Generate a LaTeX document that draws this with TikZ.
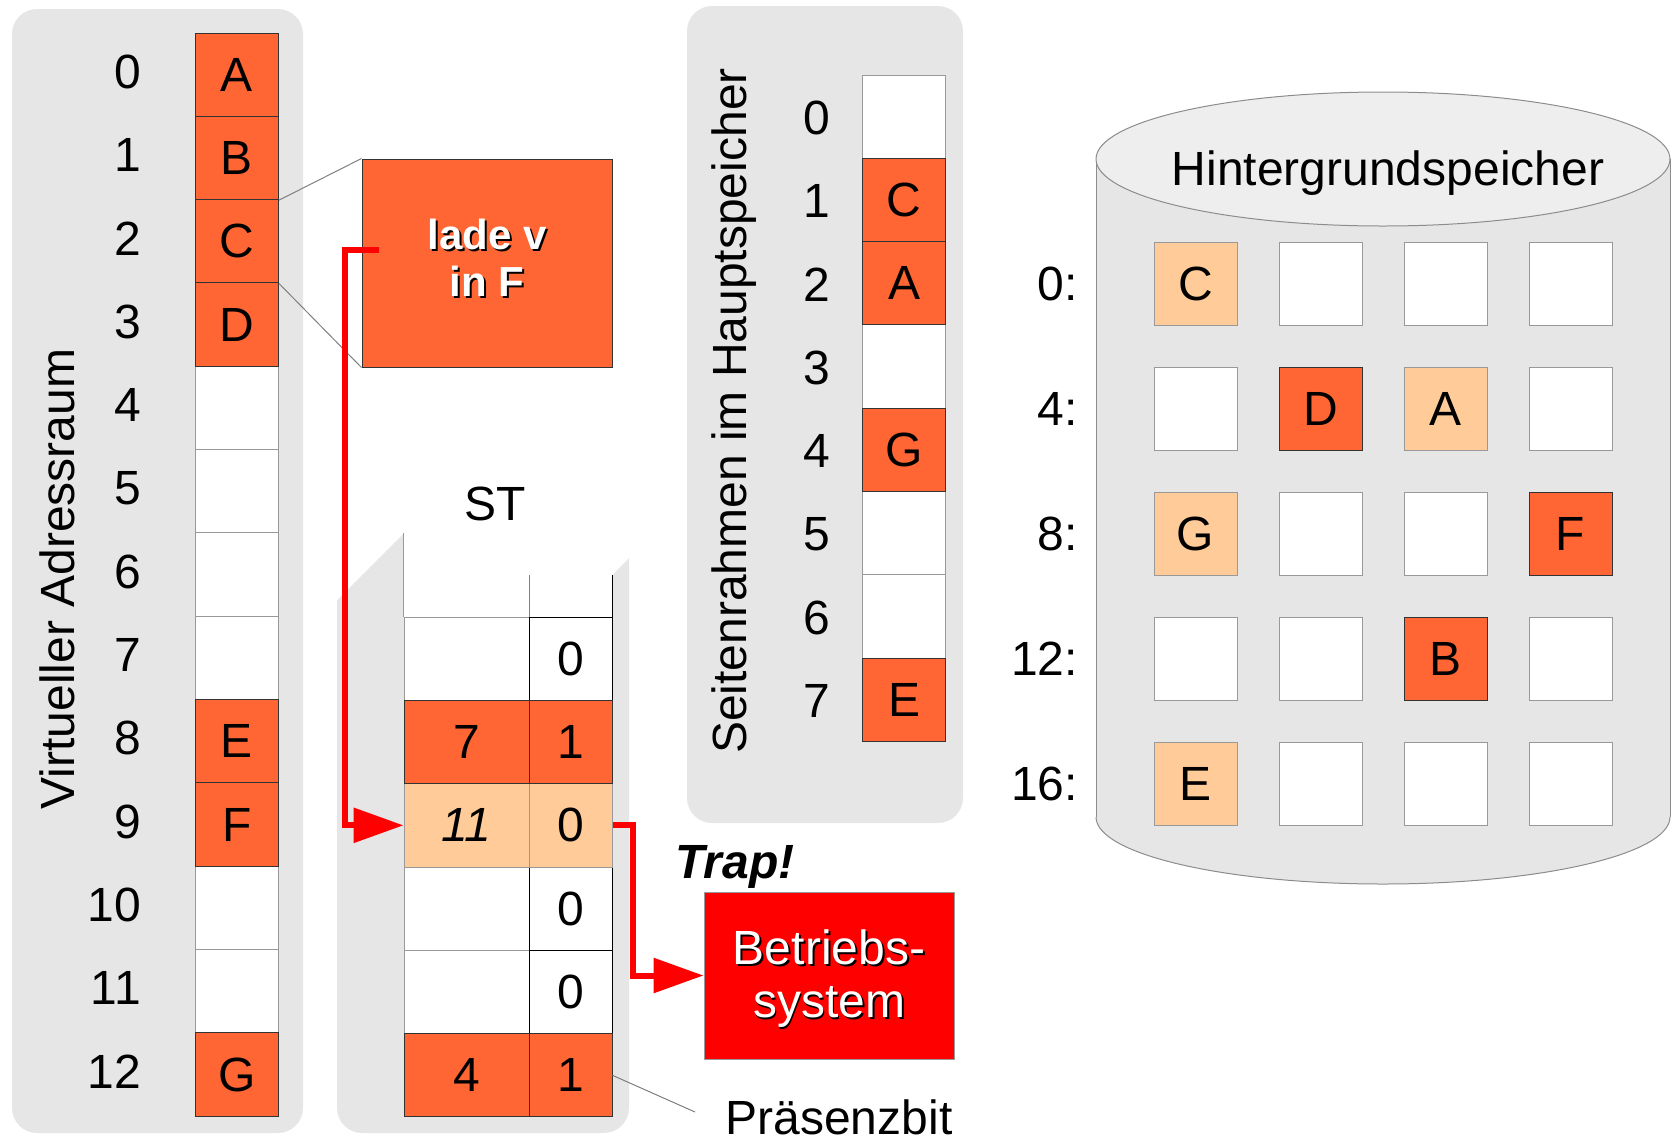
\documentclass[tikz,border=0pt]{standalone}
\usepackage{fontspec}
\setmainfont{Liberation Sans}
\usetikzlibrary{arrows.meta}
\definecolor{panelgray}{HTML}{E6E6E6}
\definecolor{orng}{HTML}{FF6633}
\definecolor{lorng}{HTML}{FFCC99}
\definecolor{topgray}{HTML}{EEEEEE}
\definecolor{linegray}{HTML}{999999}
\definecolor{darkline}{HTML}{333333}
\definecolor{cylline}{HTML}{8C8C8C}
\newcommand\myfs{\fontsize{48}{54}\selectfont}
\newcommand\myfsb{\fontsize{42}{47}\selectfont\bfseries}
\newcommand\myfsc{\fontsize{48}{53}\selectfont}
\begin{document}
\begin{tikzpicture}[x=1pt,y=-1pt,
  every node/.style={font=\myfs, inner sep=0pt},
  cellbase/.style={rectangle, minimum width=83pt, minimum height=83.33pt, line width=1pt},
  cellw/.style={cellbase, fill=white, draw=linegray},
  cellwb/.style={cellbase, fill=white, draw=black},
  cello/.style={cellbase, fill=orng, draw=darkline},
  celll/.style={cellbase, fill=lorng, draw=linegray},
  wide/.style={minimum width=125pt},
  panel/.style={fill=panelgray, rounded corners=25pt},
  leader/.style={draw=gray, line width=1pt},
  redarrow/.style={draw=red, line width=6pt, line join=miter, -{Triangle[length=50pt,width=34pt]}},
  shadowtxt/.style={text=black, align=center},
  whitetxt/.style={text=white, align=center}
]
\useasboundingbox (0,0) rectangle (1674,1144);

% ---------- panels ----------
\fill[panel] (12,9) rectangle (303,1133);
\fill[panel] (687,6) rectangle (963,823);
\fill[panel] (337,520) rectangle (629,1133);
\fill[white] (330,607) -- (404,533) -- (404,617) -- (612,617) -- (612,575) -- (635,552) -- (635,505) -- (330,505) -- cycle;

% ---------- virtual address space ----------
\node[rotate=90] (vlabel) at (57,579) {Virtueller Adressraum};
\foreach \i in {4,5,6,7,10,11}
  \node[cellw] (v\i) at (237,{33+83.33*(\i+0.5)}) {};
\foreach \i/\t in {0/A,1/B,2/C,3/D,8/E,9/F,12/G}
  \node[cello] (v\i) at (237,{33+83.33*(\i+0.5)}) {\t};
\foreach \i in {0,...,12}
  \node[anchor=east] (vn\i) at (141,{30+83.33*(\i+0.5)}) {\i};

% ---------- lade box ----------
\node[rectangle, minimum width=250pt, minimum height=208pt, fill=orng, draw=darkline, line width=1pt] (lade) at (487,263) {};
\node[shadowtxt, font=\myfsb] (ladeshadow) at (489,260) {lade v\\in F};
\node[whitetxt, font=\myfsb] (ladetext) at (487,258) {lade v\\in F};
\draw[leader] (v1.south east) -- (lade.north west);
\draw[leader] (v2.south east) -- (lade.south west);

% ---------- ST table ----------
\node[anchor=base] (st) at (495,520) {ST};
\node[cellw, wide] (sl0) at (466.5,{617+83.33*0.5}) {};
\node[cellwb] (sr0) at (570.5,{617+83.33*0.5}) {0};
\node[cellw, wide] (sl3) at (466.5,{617+83.33*3.5}) {};
\node[cellwb] (sr3) at (570.5,{617+83.33*3.5}) {0};
\node[cellw, wide] (sl4) at (466.5,{617+83.33*4.5}) {};
\node[cellwb] (sr4) at (570.5,{617+83.33*4.5}) {0};
\node[celll, wide] (sl2) at (466.5,{617+83.33*2.5}) {\textit{11}};
\node[celll] (sr2) at (570.5,{617+83.33*2.5}) {0};
\node[cello, wide] (sl1) at (466.5,{617+83.33*1.5}) {7};
\node[cello] (sr1) at (570.5,{617+83.33*1.5}) {1};
\node[cello, wide] (sl5) at (466.5,{617+83.33*5.5}) {4};
\node[cello] (sr5) at (570.5,{617+83.33*5.5}) {1};
\draw[linegray, line width=1pt] (sl0.north west) -- ++(0,-84);
\draw[gray, line width=1pt] (sl0.north east) -- ++(0,-42);
\draw[black, line width=1pt] (sr0.north east) -- ++(0,-42);

% ---------- Betriebssystem ----------
\node[rectangle, minimum width=250pt, minimum height=167pt, fill=red, draw=linegray, line width=1pt] (bs) at (829,975.5) {};
\node[shadowtxt, font=\myfsc] (bsshadow) at (831,980.5) {Betriebs-\\system};
\node[whitetxt, font=\myfsc] (bstext) at (829,978.5) {Betriebs-\\system};
\node[anchor=base, font=\myfs\bfseries\itshape] (trap) at (735,878) {Trap!};

% ---------- red arrows ----------
\coordinate (ladeout) at (379,250);
\draw[redarrow] (ladeout) -- ++(-34,0) |- (sl2.west);
\draw[redarrow] (sr2.east) -- ++(20,0) |- (bs.west);

% ---------- Praesenzbit ----------
\node[anchor=base] (pb) at (839,1134) {Präsenzbit};
\coordinate (pbend) at (695,1112);
\draw[leader] (sr5.east) -- (pbend);

% ---------- page frames ----------
\node[rotate=90] (flabel) at (734,411) {Seitenrahmen im Hauptspeicher};
\foreach \i in {0,3,5,6}
  \node[cellw] (f\i) at (904,{75+83.33*(\i+0.5)}) {};
\foreach \i/\t in {1/C,2/A,4/G,7/E}
  \node[cello] (f\i) at (904,{75+83.33*(\i+0.5)}) {\t};
\foreach \i in {0,...,7}
  \node (fn\i) at (817,{76+83.33*(\i+0.5)}) {\i};

% ---------- cylinder ----------
\fill[panelgray] (1096,159) rectangle (1670,817);
\fill[panelgray] (1383,817) ellipse [x radius=287, y radius=67];
\draw[cylline, line width=1pt] (1096,159) -- (1096,817);
\draw[cylline, line width=1pt] (1670,159) -- (1670,817);
\begin{scope}
  \clip (1080,817) rectangle (1690,900);
  \draw[cylline, line width=1pt] (1383,817) ellipse [x radius=287, y radius=67];
\end{scope}
\filldraw[fill=topgray, draw=cylline, line width=1pt] (1383,159) ellipse [x radius=287, y radius=67];
\node[anchor=base] (hgs) at (1388,185) {Hintergrundspeicher};

\foreach \r/\k/\s/\t in {
  0/0/celll/C, 0/1/cellw/, 0/2/cellw/, 0/3/cellw/,
  1/0/cellw/, 1/1/cello/D, 1/2/celll/A, 1/3/cellw/,
  2/0/celll/G, 2/1/cellw/, 2/2/cellw/, 2/3/cello/F,
  3/0/cellw/, 3/1/cellw/, 3/2/cello/B, 3/3/cellw/,
  4/0/celll/E, 4/1/cellw/, 4/2/cellw/, 4/3/cellw/}
  \node[\s] (c\r\k) at ({1195.5+125*\k},{283.75+125*\r}) {\t};
\foreach \r/\l in {0/0:,1/4:,2/8:,3/12:,4/16:}
  \node[anchor=east] (cl\r) at (1078,{283.75+125*\r}) {\l};
\end{tikzpicture}
\end{document}
